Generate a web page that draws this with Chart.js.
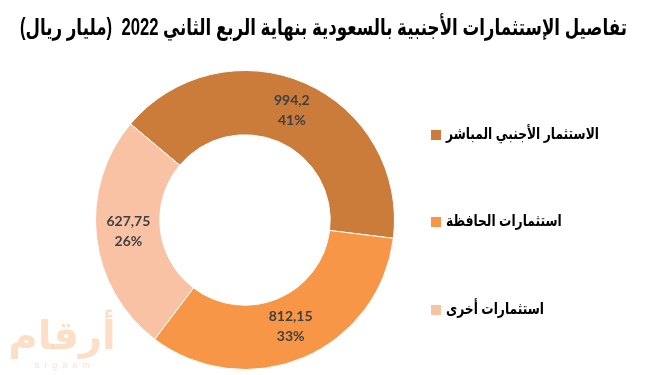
<!DOCTYPE html>
<html>
<head>
<meta charset="utf-8">
<script src="https://cdn.jsdelivr.net/npm/chart.js@4.4.0/dist/chart.umd.min.js"></script>
<style>
  html, body { margin: 0; padding: 0; background: #fff; }
  #wrap { width: 647px; height: 375px; }
</style>
</head>
<body>
<div id="wrap"><canvas id="myChart" width="647" height="375"></canvas></div>
<script>
const titleText = 'تفاصيل الإستثمارات الأجنبية بالسعودية بنهاية الربع الثاني 2022  (مليار ريال)';
const categories = ['الاستثمار الأجنبي المباشر', 'استثمارات الحافظة', 'استثمارات أخرى'];
const values = [994.2, 812.15, 627.75];
const colors = ['#CB7B3A', '#F79646', '#F9C2A4'];

const total = values.reduce((s, v) => s + v, 0);

const arabicFont = '"Liberation Sans", "DejaVu Sans", sans-serif';

// draw text squeezed horizontally; x is the left edge
function squeezed(ctx, text, x, y, sx) {
  ctx.save();
  ctx.translate(x, y);
  ctx.scale(sx, 1);
  ctx.textAlign = 'left';
  ctx.fillText(text, 0, 0);
  ctx.restore();
}

// value + percent inside each slice
const sliceLabels = {
  id: 'slice_labels',
  afterDatasetsDraw: (chart) => {
    const ctx = chart.ctx;
    const meta = chart.getDatasetMeta(0);
    ctx.save();
    ctx.fillStyle = '#404040';
    ctx.font = 'bold 14px Lato, "Open Sans", sans-serif';
    ctx.textAlign = 'center';
    ctx.textBaseline = 'middle';
    meta.data.forEach((arc, i) => {
      const p = arc.tooltipPosition();
      const v = String(values[i]).replace('.', ',');
      const pct = Math.round(values[i] / total * 100) + '%';
      ctx.fillText(v, p.x, p.y - 12);
      ctx.fillText(pct, p.x, p.y + 8);
    });
    ctx.restore();
  },
};

// title, legend on the right and watermark
const extras = {
  id: 'extras',
  afterDraw: (chart) => {
    const ctx = chart.ctx;
    ctx.save();
    ctx.fillStyle = '#000';
    ctx.direction = 'ltr';
    ctx.textBaseline = 'middle';

    ctx.font = 'bold 23px ' + arabicFont;
    let w = ctx.measureText(titleText).width;
    squeezed(ctx, titleText, 20, 29, 607 / w);

    const rows = [135, 222, 310];
    ctx.font = 'bold 16px ' + arabicFont;
    const sx = 153 / ctx.measureText(categories[0]).width;
    categories.forEach((c, i) => {
      ctx.fillStyle = colors[i];
      ctx.fillRect(431, rows[i] - 5, 10, 10);
      ctx.fillStyle = '#000';
      squeezed(ctx, c, 446, rows[i], sx);
    });

    ctx.fillStyle = 'rgba(247,150,70,0.3)';
    ctx.textAlign = 'center';
    ctx.font = 'bold 40px ' + arabicFont;
    ctx.fillText('أرقام', 62, 338);
    ctx.font = '9px ' + arabicFont;
    ctx.fillText('a  r  g  a  a  m', 62, 366);
    ctx.restore();
  },
};

const background = {
  id: 'custom_canvas_background_color',
  beforeDraw: (chart) => {
    const ctx = chart.canvas.getContext('2d');
    ctx.save();
    ctx.globalCompositeOperation = 'destination-over';
    ctx.fillStyle = '#fff';
    ctx.fillRect(0, 0, chart.width, chart.height);
    ctx.restore();
  },
};

new Chart(document.getElementById('myChart').getContext('2d'), {
  type: 'doughnut',
  data: {
    labels: categories,
    datasets: [
      {
        data: values,
        backgroundColor: colors,
        borderColor: '#ffffff',
        borderWidth: 1,
      },
    ],
  },
  plugins: [background, sliceLabels, extras],
  options: {
    responsive: false,
    animation: false,
    rotation: -50,
    cutout: '57%',
    layout: {
      padding: { left: 95, right: 252, top: 70, bottom: 5 },
    },
    plugins: {
      legend: { display: false },
      title: { display: false },
      tooltip: { enabled: false },
    },
  },
});
</script>
</body>
</html>
